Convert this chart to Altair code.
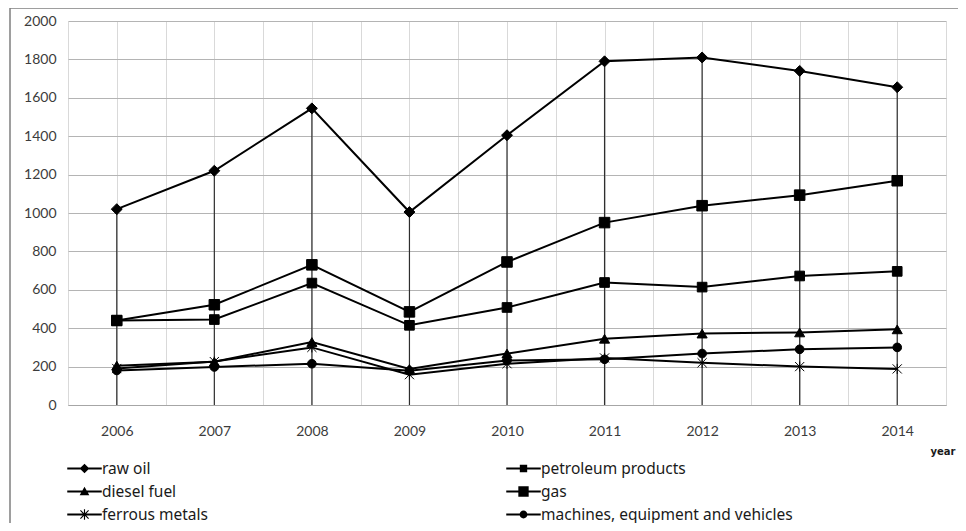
import altair as alt
import pandas as pd

years = [2006, 2007, 2008, 2009, 2010, 2011, 2012, 2013, 2014]
series_names = ["raw oil", "petroleum products", "diesel fuel", "gas",
                "ferrous metals", "machines, equipment and vehicles"]
raw_oil = [1020, 1220, 1545, 1005, 1405, 1790, 1810, 1740, 1655]
petroleum = [440, 522, 730, 485, 745, 950, 1038, 1093, 1168]
diesel = [205, 225, 328, 188, 268, 345, 372, 378, 394]
gas = [440, 445, 635, 415, 508, 638, 614, 672, 696]
ferrous = [190, 226, 300, 158, 215, 245, 220, 200, 188]
machines = [180, 198, 215, 178, 232, 238, 268, 290, 300]

# legend reading order (column by column)
legend_order = ["raw oil", "diesel fuel", "ferrous metals",
                "petroleum products", "gas", "machines, equipment and vehicles"]

grid_vals = [2005.5, 2006, 2006.5, 2007, 2007.5, 2008, 2008.5, 2009, 2009.5,
             2010, 2010.5, 2011, 2011.5, 2012, 2012.5, 2013, 2013.5, 2014, 2014.5]
y_ticks = [0, 200, 400, 600, 800, 1000, 1200, 1400, 1600, 1800, 2000]

rows = []
for name, vals in zip(series_names, [raw_oil, petroleum, diesel, gas, ferrous, machines]):
    for yr, v in zip(years, vals):
        rows.append({"year": yr, "series": name, "value": v})
df = pd.DataFrame(rows)

W, H = 878, 384
FONT = "Lato"
LFONT = "Noto Sans"

asterisk = "M-1,-1L1,1M-1,1L1,-1M0,-1.1L0,1.1"
point_shapes = ["diamond", "square", "triangle-up", "square", asterisk, "circle"]
point_sizes = [120, 75, 120, 170, 110, 85]

LINE = "M-1.5,-0.08L1.5,-0.08L1.5,0.08L-1.5,0.08Z"
legend_paths_by_name = {
    "raw oil": LINE + "M0,-0.42L0.42,0L0,0.42L-0.42,0Z",
    "petroleum products": LINE + "M-0.32,-0.32L0.32,-0.32L0.32,0.32L-0.32,0.32Z",
    "diesel fuel": LINE + "M0,-0.42L0.42,0.32L-0.42,0.32Z",
    "gas": LINE + "M-0.45,-0.45L0.45,-0.45L0.45,0.45L-0.45,0.45Z",
    "ferrous metals": LINE + "M-0.05,-0.45L0.05,-0.45L0.05,0.45L-0.05,0.45Z"
                      "M-0.32,-0.39L0.39,0.32L0.32,0.39L-0.39,-0.32Z"
                      "M0.32,-0.39L0.39,-0.32L-0.32,0.39L-0.39,0.32Z",
    "machines, equipment and vehicles": LINE + "M-0.34,0A0.34,0.34,0,1,1,0.34,0A0.34,0.34,0,1,1,-0.34,0Z",
}
legend_paths = [legend_paths_by_name[n] for n in legend_order]

x_scale = alt.Scale(domain=[2005.5, 2014.5], nice=False, zero=False)
y_scale = alt.Scale(domain=[0, 2000], nice=False)

x_axis = alt.Axis(values=grid_vals,
                  labelExpr="datum.value % 1 === 0 ? datum.value : ''",
                  ticks=False, domainColor="#a6a6a6", gridColor="#d9d9d9",
                  labelPadding=19, labelFontSize=14, labelFont=FONT,
                  labelColor="#3c3c3c", labelFlush=False, labelOverlap=False,
                  title="year", titleX=W - 16, titleY=46, titleAlign="left",
                  titleBaseline="middle", titleFont="DejaVu Sans",
                  titleFontSize=10, titleFontWeight="bold", titleColor="#1a1a1a")
y_axis = alt.Axis(values=y_ticks, format="d", ticks=False, domain=False,
                  gridColor="#b4b4b4", labelOverlap=False, labelSeparation=0,
                  labelPadding=12, labelFontSize=14, labelFont=FONT,
                  labelColor="#3c3c3c", title=None)

X = alt.X("year:Q", scale=x_scale, axis=x_axis)

base = alt.Chart(df)

frame = alt.Chart(pd.DataFrame({"k": [0]})).mark_rect(
    fillOpacity=0, stroke="#7f7f7f", strokeWidth=1.5
).encode(x=alt.value(-58), x2=alt.value(W + 200), y=alt.value(-13), y2=alt.value(H + 300))

rules = base.transform_aggregate(
    top="max(value)", groupby=["year"]
).mark_rule(color="#2e2e2e", strokeWidth=1.2).encode(
    x=X,
    y=alt.Y("top:Q", scale=y_scale, axis=y_axis),
    y2=alt.datum(0),
)

lines = base.mark_line(color="black", strokeWidth=2).encode(
    x=X,
    y=alt.Y("value:Q", scale=y_scale, axis=y_axis),
    detail="series:N",
)

points = base.mark_point(filled=True, color="black", stroke="black",
                         strokeWidth=1, opacity=1).encode(
    x=X,
    y=alt.Y("value:Q", scale=y_scale, axis=y_axis),
    shape=alt.Shape("series:N", scale=alt.Scale(domain=series_names, range=point_shapes), legend=None),
    size=alt.Size("series:N", scale=alt.Scale(domain=series_names, range=point_sizes), legend=None),
)

legend_layer = base.transform_filter("datum.value < 0").mark_point(
    filled=True, color="black", opacity=1
).encode(
    shape=alt.Shape("series:N", scale=alt.Scale(domain=legend_order, range=legend_paths),
                    legend=alt.Legend(title=None, orient="none", legendX=5, legendY=436,
                                      columns=2, columnPadding=298, rowPadding=3,
                                      padding=0, symbolSize=529, symbolStrokeWidth=0,
                                      symbolFillColor="black",
                                      symbolOpacity=1, labelOffset=6,
                                      labelFont=LFONT, labelFontSize=15.5,
                                      labelColor="#1a1a1a", labelLimit=400)),
)

chart = alt.layer(frame, rules, lines, points, legend_layer).resolve_scale(
    shape="independent", size="independent"
).properties(
    width=W, height=H,
    autosize=alt.AutoSizeParams(type="none"),
    padding={"left": 60, "top": 13, "right": 12, "bottom": 118},
).configure_view(stroke=None).configure_axisY(labelOverlap=False)

chart.save("out.html", embed_options={"renderer": "svg", "actions": False})
